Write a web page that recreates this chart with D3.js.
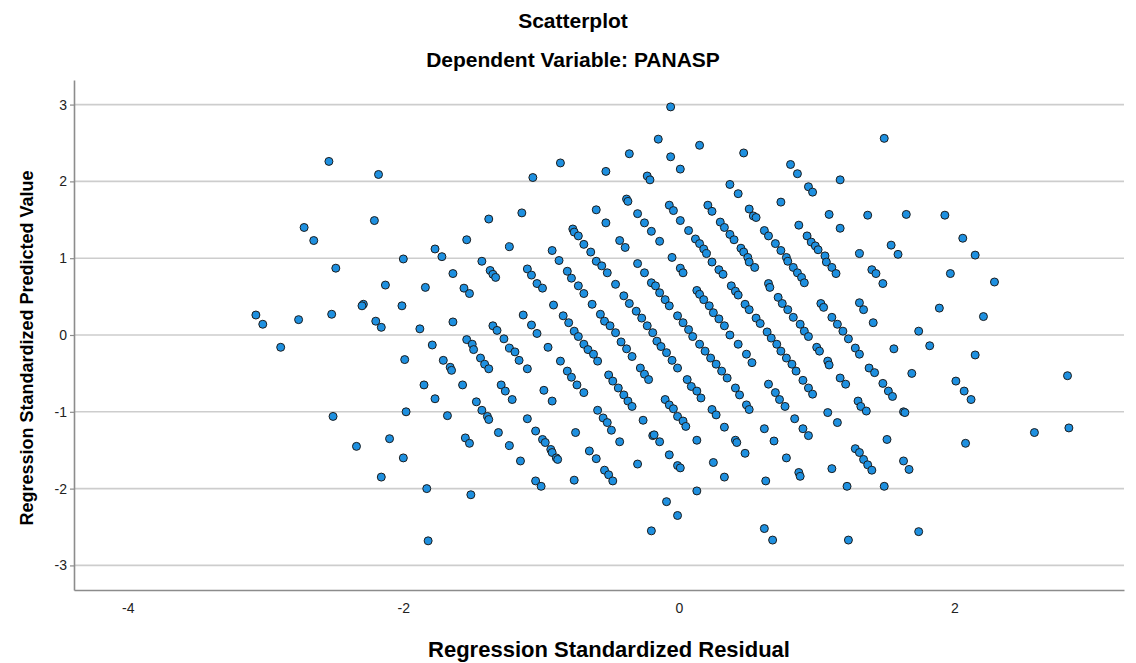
<!DOCTYPE html>
<html>
<head>
<meta charset="utf-8">
<script src="https://cdn.jsdelivr.net/npm/d3@7"></script>
<style>
    body { margin: 0; background: #fff; }
    svg { display: block; font-family: "Liberation Sans", Arial, sans-serif; }
</style>
</head>
<body>
<svg id="graph" width="1136" height="663"></svg>
<script>
(function () {
    'use strict';

    var title = "Scatterplot",
        subtitle = "Dependent Variable: PANASP",
        xLabel = "Regression Standardized Residual",
        yLabel = "Regression Standardized Predicted Value";

    var xTicks = [-4, -2, 0, 2],
        yTicks = [-3, -2, -1, 0, 1, 2, 3];

    // [standardized residual, standardized predicted value]
    var points = [
        [-2.54,2.26],[-2.18,2.09],[-2.21,1.49],[-2.72,1.40],[-2.65,1.23],[-2.00,0.99],[-2.49,0.87],[-2.13,0.65],
        [-1.84,0.62],[-2.29,0.40],[-2.30,0.38],[-2.01,0.38],[-3.07,0.26],[-3.02,0.14],[-2.76,0.20],[-2.52,0.27],
        [-2.20,0.18],[-2.16,0.10],[-1.88,0.08],[-2.89,-0.16],[-1.99,-0.32],[-1.85,-0.65],[-2.51,-1.06],[-1.98,-1.00],
        [-2.10,-1.35],[-2.34,-1.45],[-2.00,-1.60],[-2.16,-1.85],[-1.83,-2.00],[-1.82,-2.68],
        [1.49,2.56],[1.65,1.57],[1.93,1.56],[2.06,1.26],[1.54,1.17],[1.59,1.05],[2.15,1.04],[1.48,0.67],
        [1.97,0.80],[2.29,0.69],[1.89,0.35],[2.21,0.24],[1.74,0.05],[1.56,-0.18],[1.82,-0.14],[2.15,-0.26],
        [1.69,-0.50],[2.82,-0.53],[1.48,-0.63],[1.52,-0.73],[1.55,-0.80],[2.01,-0.60],[2.07,-0.73],[2.12,-0.84],
        [1.63,-1.00],[1.64,-1.01],[1.51,-1.36],[2.08,-1.41],[2.58,-1.27],[2.83,-1.21],[1.63,-1.64],[1.67,-1.75],
        [1.49,-1.97],[1.74,-2.56],
        [-1.06,2.05],[-0.86,2.24],[-0.53,2.13],[-0.36,2.36],[-0.23,2.07],[-0.21,2.02],[-1.38,1.51],[-1.14,1.59],
        [-1.54,1.24],[-1.23,1.15],[-1.77,1.12],[-1.72,1.02],[-0.92,1.10],[-0.60,1.63],[-0.53,1.46],[-0.38,1.77],
        [-0.37,1.74],[-0.30,1.58],[-0.25,1.46],[-0.20,1.35],[-0.77,1.38],[-0.76,1.34],[-0.73,1.29],[-0.69,1.18],
        [-0.64,1.08],[-0.43,1.23],[-0.39,1.14],
        [-0.06,2.97],[-0.15,2.55],[0.15,2.47],[-0.06,2.32],[0.01,2.16],[0.47,2.37],[0.81,2.22],[0.86,2.10],
        [1.17,2.02],[0.37,1.96],[0.43,1.84],[0.94,1.93],[0.97,1.86],[0.74,1.73],[1.09,1.57],[1.37,1.56],
        [1.17,1.39],[-0.07,1.69],[-0.04,1.62],[0.01,1.49],[0.07,1.36],[0.12,1.25],[0.15,1.19],[0.18,1.12],
        [0.20,1.06],[-0.14,1.22],[-0.05,1.01],[0.21,1.69],[0.24,1.61],[0.30,1.47],[0.33,1.40],[0.37,1.31],
        [0.40,1.24],[0.45,1.13],[0.47,1.08],[0.50,1.01],[0.51,1.64],[0.54,1.55],[0.56,1.53],[0.62,1.36],
        [0.65,1.29],[0.70,1.19],[0.74,1.10],[0.78,1.01],[0.87,1.43],[0.93,1.29],[0.96,1.21],[0.99,1.16],
        [1.01,1.11],[1.06,1.03],[1.31,1.06],
        [-1.43,0.96],[-1.64,0.80],[-1.37,0.84],[-1.35,0.79],[-1.33,0.75],[-1.56,0.61],[-1.52,0.54],[-1.10,0.86],
        [-1.07,0.78],[-1.03,0.67],[-0.99,0.61],[-0.87,0.97],[-0.81,0.83],[-0.78,0.74],[-0.73,0.64],[-0.69,0.54],
        [-0.63,0.40],[-0.60,0.96],[-0.56,0.90],[-0.52,0.81],[-0.46,0.66],[-0.91,0.39],[-1.13,0.26],[-1.07,0.13],
        [-1.03,0.02],
        [-0.84,0.25],[-0.80,0.16],[-0.76,0.05],[-0.73,-0.02],[-0.69,-0.12],[-0.66,-0.19],[-0.62,-0.25],[-0.59,-0.34],
        [-0.57,0.27],[-0.54,0.18],[-0.50,0.12],[-0.46,0.03],[-0.42,-0.09],[-0.38,-0.18],[-0.34,-0.28],[-0.28,-0.43],
        [-0.25,-0.51],[-0.22,-0.58],
        [-0.30,0.93],[-0.25,0.81],[-0.20,0.68],
        [-0.40,0.51],[-0.36,0.41],[-0.31,0.31],[-0.27,0.22],[-0.23,0.12],[-0.19,0.03],
        [-1.64,0.17],[-1.79,-0.13],
        [-1.35,0.12],[-1.32,0.06],[-1.27,-0.05],[-1.23,-0.17],[-1.19,-0.22],[-1.16,-0.33],[-1.10,-0.44],
        [-1.54,-0.06],[-1.50,-0.12],[-1.49,-0.19],[-1.44,-0.30],[-1.41,-0.38],[-1.38,-0.44],
        [-0.95,-0.16],[-0.86,-0.34],
        [-0.81,-0.47],[-0.78,-0.55],[-0.74,-0.65],[-0.69,-0.75],
        [-1.71,-0.33],[-1.66,-0.42],[-1.65,-0.46],[-1.57,-0.65],
        [-1.29,-0.65],[-1.26,-0.73],[-1.21,-0.84],
        [-0.98,-0.72],[-0.92,-0.86],
        [-0.51,-0.52],[-0.48,-0.60],[-0.44,-0.69],[-0.40,-0.78],[-0.37,-0.86],[-0.34,-0.93],
        [-1.77,-0.83],
        [-1.47,-0.87],[-1.43,-0.98],[-1.39,-1.06],[-1.38,-1.10],
        [-1.68,-1.05],[-1.10,-1.09],[-0.59,-0.98],[-0.55,-1.08],[-0.26,-1.11],
        [0.01,0.87],[0.03,0.81],
        [0.24,0.95],[0.29,0.85],[0.32,0.79],
        [0.51,0.95],[0.55,0.88],
        [0.79,0.96],[0.83,0.88],[0.86,0.81],[0.89,0.75],[0.91,0.68],
        [1.07,0.95],[1.11,0.88],[1.14,0.80],
        [1.40,0.85],[1.43,0.80],
        [-0.17,0.64],[-0.14,0.55],[-0.10,0.46],[-0.07,0.38],
        [0.65,0.67],[0.66,0.62],
        [0.13,0.58],[0.15,0.53],[0.18,0.46],[0.22,0.38],[0.25,0.29],[0.29,0.21],[0.33,0.12],[0.37,0.00],
        [0.43,-0.12],[0.49,-0.25],[0.53,-0.36],
        [0.38,0.64],[0.41,0.57],[0.43,0.52],[0.48,0.40],[0.51,0.33],[0.56,0.22],[0.59,0.15],[0.64,0.04],
        [0.67,-0.04],[0.71,-0.12],[0.74,-0.21],[0.78,-0.30],[0.82,-0.38],[0.85,-0.47],[0.90,-0.59],[0.94,-0.69],
        [0.97,-0.77],
        [0.72,0.49],[0.75,0.41],[0.79,0.33],[0.83,0.23],[0.88,0.14],[0.91,0.05],[0.94,-0.02],
        [1.00,-0.16],[1.02,-0.21],[1.08,-0.34],[1.09,-0.39],
        [1.03,0.41],[1.05,0.36],[1.11,0.23],[1.15,0.14],[1.19,0.05],[1.23,-0.05],
        [1.31,0.42],[1.34,0.33],[1.41,0.16],
        [1.28,-0.17],[1.31,-0.25],[1.38,-0.43],[1.42,-0.49],[1.17,-0.56],[1.21,-0.64],
        [-0.01,0.25],[0.03,0.16],[0.07,0.07],[0.10,-0.02],[0.15,-0.12],[0.19,-0.21],[0.23,-0.30],[0.27,-0.38],
        [0.31,-0.47],[0.35,-0.56],[0.41,-0.69],[0.44,-0.78],[0.49,-0.91],[0.51,-0.97],
        [-0.16,-0.08],[-0.13,-0.15],[-0.09,-0.23],[-0.05,-0.33],[-0.01,-0.43],
        [0.06,-0.58],[0.09,-0.67],[0.13,-0.73],[0.16,-0.82],
        [0.65,-0.64],[0.70,-0.75],[0.73,-0.84],[0.77,-0.93],
        [-0.10,-0.84],[-0.07,-0.91],[-0.04,-0.96],
        [0.24,-0.97],[0.27,-1.04],
        [1.08,-1.01],
        [1.30,-0.86],[1.32,-0.93],[1.36,-0.99],
        [-0.01,-1.06],[0.03,-1.12],
        [0.84,-1.09],[1.15,-1.14],
        [-0.52,-1.14],[-1.55,-1.34],[-1.52,-1.41],[-1.31,-1.27],[-1.23,-1.44],[-1.15,-1.64],[-1.04,-1.25],
        [-0.99,-1.36],[-0.97,-1.40],[-0.93,-1.49],[-0.92,-1.53],[-0.89,-1.60],[-0.88,-1.62],
        [-1.04,-1.90],[-1.00,-1.97],[-0.75,-1.27],[-0.49,-1.24],[-0.43,-1.39],[-0.65,-1.51],[-0.60,-1.61],
        [-0.54,-1.76],[-0.51,-1.82],[-0.48,-1.90],[-0.76,-1.89],[-0.30,-1.68],[-0.19,-1.31],[-1.51,-2.08],[-0.20,-2.55],
        [0.05,-1.19],[-0.18,-1.30],[-0.14,-1.39],[-0.07,-1.56],[-0.01,-1.70],[0.01,-1.73],[0.13,-1.37],[0.33,-1.20],
        [0.41,-1.37],[0.42,-1.40],[0.48,-1.54],[0.25,-1.66],[0.33,-1.85],[0.13,-2.03],[0.62,-1.22],[0.69,-1.38],
        [0.78,-1.60],[0.90,-1.22],[0.94,-1.31],[0.87,-1.79],[0.88,-1.84],[0.63,-1.90],[1.11,-1.74],[1.28,-1.48],
        [1.31,-1.53],[1.34,-1.62],[1.37,-1.69],[1.40,-1.76],[1.22,-1.97],[-0.09,-2.17],[-0.01,-2.35],[0.62,-2.52],
        [0.68,-2.67],[1.23,-2.67]
    ];

    var left = 74, right = 1124, top = 80, bottom = 590;

    var svg = d3.select("#graph");

    var x = d3.scaleLinear().domain([-4.39, 3.23]).range([left, right]),
        y = d3.scaleLinear().domain([-3.32, 3.32]).range([bottom, top]);

    // plain hyphen minus, no decimals
    var fmt = function (d) { return String(d); };

    // horizontal gridlines
    svg.append("g")
        .selectAll("line")
        .data(yTicks)
        .enter().append("line")
        .attr("x1", left)
        .attr("x2", right)
        .attr("y1", function (d) { return y(d); })
        .attr("y2", function (d) { return y(d); })
        .style("stroke", "#cdcdcd")
        .style("stroke-width", 1.6);

    // axes
    var yAxis = svg.append("g")
        .attr("transform", "translate(" + left + ",0)")
        .call(d3.axisLeft(y).tickValues(yTicks).tickFormat(fmt)
            .tickSize(4).tickSizeOuter(0).tickPadding(3));

    var xAxis = svg.append("g")
        .attr("transform", "translate(0," + bottom + ")")
        .call(d3.axisBottom(x).tickValues(xTicks).tickFormat(fmt)
            .tickSize(0).tickSizeOuter(0).tickPadding(13));

    [xAxis, yAxis].forEach(function (g) {
        g.select(".domain").style("stroke", "#8c8c8c").style("stroke-width", 1.6);
        g.selectAll(".tick line").style("stroke", "#8c8c8c").style("stroke-width", 1.2);
        g.selectAll(".tick text")
            .style("font-family", "'Liberation Sans', Arial, sans-serif")
            .style("font-size", "14px")
            .style("fill", "#222");
    });

    // points
    svg.append("g")
        .selectAll("circle")
        .data(points)
        .enter().append("circle")
        .attr("cx", function (d) { return x(d[0]); })
        .attr("cy", function (d) { return y(d[1]); })
        .attr("r", 4)
        .style("fill", "#1e90e0")
        .style("stroke", "#1c1c1c")
        .style("stroke-width", 1);

    // titles
    svg.append("text")
        .attr("x", 573)
        .attr("y", 28)
        .attr("text-anchor", "middle")
        .style("font-weight", "bold")
        .style("font-size", "21px")
        .text(title);

    svg.append("text")
        .attr("x", 573)
        .attr("y", 67)
        .attr("text-anchor", "middle")
        .style("font-weight", "bold")
        .style("font-size", "21px")
        .text(subtitle);

    // axis labels
    svg.append("text")
        .attr("x", 609)
        .attr("y", 657)
        .attr("text-anchor", "middle")
        .style("font-weight", "bold")
        .style("font-size", "22px")
        .text(xLabel);

    svg.append("text")
        .attr("transform", "translate(33,348) rotate(-90)")
        .attr("text-anchor", "middle")
        .style("font-weight", "bold")
        .style("font-size", "18px")
        .text(yLabel);
})();
</script>
</body>
</html>
